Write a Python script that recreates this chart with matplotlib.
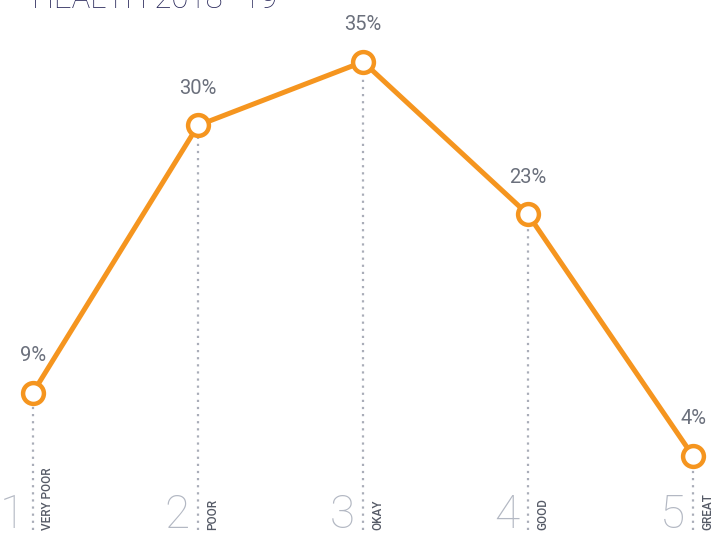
import matplotlib
matplotlib.use("Agg")
import matplotlib.pyplot as plt

# Self-rated health, share of respondents per rating
ratings = [1, 2, 3, 4, 5]
rating_names = ["VERY POOR", "POOR", "OKAY", "GOOD", "GREAT"]
shares = [9, 30, 35, 23, 4]
title = "HEALTH 2018\u201319"

ORANGE = "#f5951f"
GREY_NUM = "#b3b8c3"
GREY_TXT = "#6b707c"
GREY_LAB = "#555a66"
GREY_DOT = "#a9adb8"
NAVY = "#2b2a5c"

fig = plt.figure(figsize=(7.15, 5.36), dpi=100)
ax = fig.add_axes([0, 0, 1, 1])
ax.set_xlim(0.8, 5.133)
ax.set_ylim(-2.28, 39.86)
ax.axis("off")

base = -1.8
for x, v in zip(ratings, shares):
    ax.plot([x, x], [base, v], linestyle=(0, (1, 2.2)), color=GREY_DOT,
            linewidth=1.6, zorder=1)

ax.plot(ratings, shares, color=ORANGE, linewidth=3.6, zorder=2,
        solid_capstyle="round")
ax.plot(ratings, shares, linestyle="none", marker="o", markersize=15,
        markerfacecolor="white", markeredgecolor=ORANGE, markeredgewidth=3.2,
        zorder=3)

for x, v in zip(ratings, shares):
    ax.annotate(f"{v}%", (x, v), xytext=(0, 20), textcoords="offset points",
                ha="center", va="bottom", fontsize=14.5, color=GREY_TXT,
                family="Roboto")

for x, name in zip(ratings, rating_names):
    ax.annotate(str(x), (x, base), xytext=(-6, -5), textcoords="offset points",
                ha="right", va="bottom", fontsize=33, color=GREY_NUM,
                family="Roboto", fontweight="light")
    ax.annotate(name, (x, base), xytext=(6, 0), textcoords="offset points",
                ha="left", va="bottom", rotation=90, fontsize=8.5,
                color=GREY_LAB, family="Roboto", fontweight="medium",
                fontstretch="condensed")

fig.text(32 / 715, 1 - 8 / 536, title, ha="left", va="baseline",
         fontsize=22.5, color=NAVY, family="Roboto", fontweight="light")

fig.savefig("out.png", dpi=100)
